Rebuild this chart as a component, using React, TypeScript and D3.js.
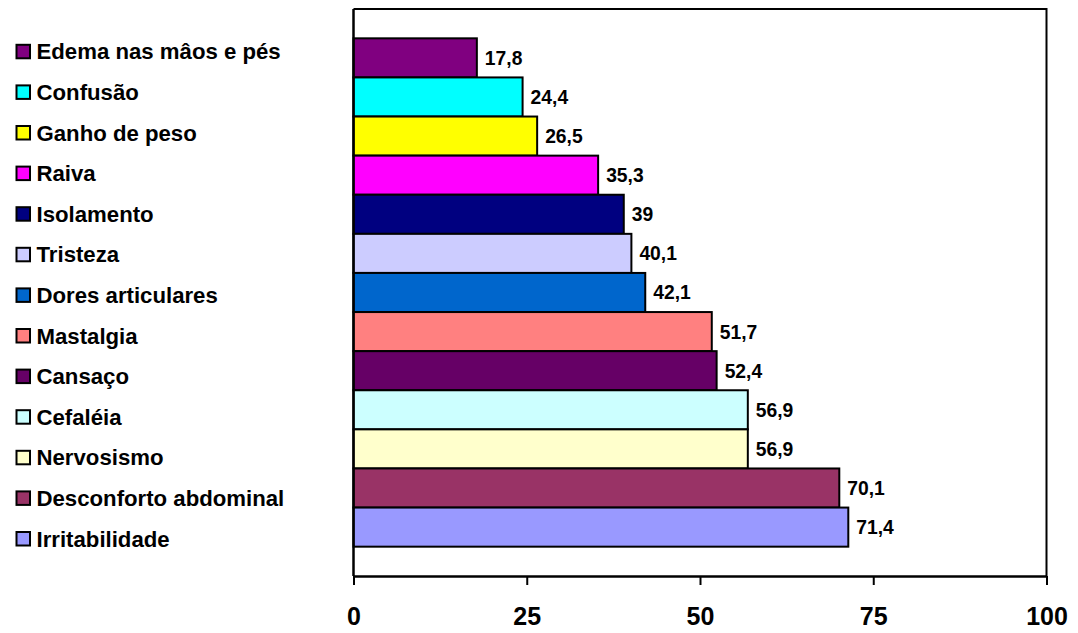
import React, { useEffect, useRef } from 'react';
import * as d3 from 'd3';

// Symptoms, top to bottom as drawn
const categories: string[] = [
    'Edema nas mâos e pés',
    'Confusão',
    'Ganho de peso',
    'Raiva',
    'Isolamento',
    'Tristeza',
    'Dores articulares',
    'Mastalgia',
    'Cansaço',
    'Cefaléia',
    'Nervosismo',
    'Desconforto abdominal',
    'Irritabilidade'
];

const values: number[] = [17.8, 24.4, 26.5, 35.3, 39, 40.1, 42.1, 51.7, 52.4, 56.9, 56.9, 70.1, 71.4];

const colors: string[] = [
    '#800080', '#00ffff', '#ffff00', '#ff00ff', '#000080', '#ccccff', '#0066cc',
    '#ff8080', '#660066', '#ccffff', '#ffffcc', '#993366', '#9999ff'
];

const xTicks: number[] = [0, 25, 50, 75, 100];

const WIDTH = 1078;
const HEIGHT = 633;
const FONT = 'Arial, "Liberation Sans", Helvetica, sans-serif';

const App: React.FC = () => {
    const svgRef = useRef<SVGSVGElement | null>(null);

    useEffect(() => {
        if (!svgRef.current) return;
        const svg = d3.select(svgRef.current);
        svg.selectAll('*').remove();

        const plot = { left: 353.5, right: 1046.5, top: 9, bottom: 576 };

        const xScale = d3.scaleLinear()
            .domain([0, 100])
            .range([plot.left, plot.right]);

        const yScale = d3.scaleBand<string>()
            .domain(categories)
            .range([plot.top, plot.bottom])
            .paddingInner(0)
            .paddingOuter(0.75);

        const data = categories.map((c, i) => ({ name: c, value: values[i], color: colors[i] }));

        // frame: top and right sides
        svg.append('path')
            .attr('d', `M${plot.left},${plot.top}H${plot.right}V${plot.bottom}`)
            .attr('fill', 'none')
            .attr('stroke', '#000')
            .attr('stroke-width', 2);

        svg.append('g')
            .selectAll('rect')
            .data(data)
            .enter()
            .append('rect')
            .attr('x', xScale(0))
            .attr('y', d => yScale(d.name)!)
            .attr('width', d => xScale(d.value) - xScale(0))
            .attr('height', yScale.bandwidth())
            .attr('fill', d => d.color)
            .attr('stroke', '#000')
            .attr('stroke-width', 2);

        svg.append('g')
            .selectAll('text')
            .data(data)
            .enter()
            .append('text')
            .attr('x', d => xScale(d.value) + 8)
            .attr('y', d => yScale(d.name)! + yScale.bandwidth() / 2)
            .attr('dy', '0.36em')
            .attr('font-family', FONT)
            .attr('font-weight', 'bold')
            .attr('font-size', 19.3)
            .text(d => String(d.value).replace('.', ','));

        // left axis line
        svg.append('line')
            .attr('x1', plot.left).attr('x2', plot.left)
            .attr('y1', plot.top).attr('y2', plot.bottom)
            .attr('stroke', '#000')
            .attr('stroke-width', 2.5);

        const xAxis = svg.append('g')
            .attr('transform', `translate(0,${plot.bottom})`)
            .call(d3.axisBottom(xScale).tickValues(xTicks).tickSize(9).tickPadding(22).tickSizeOuter(0));

        xAxis.select('.domain').attr('stroke-width', 2.5);
        xAxis.selectAll('.tick line').attr('stroke-width', 2);
        xAxis.selectAll('.tick text')
            .attr('font-family', FONT)
            .attr('font-weight', 'bold')
            .attr('font-size', 25)
            .attr('fill', '#000');

        // legend
        const legend = svg.append('g')
            .selectAll('g')
            .data(data)
            .enter()
            .append('g')
            .attr('transform', (d, i) => `translate(0,${59.3 + i * 40.6})`);

        legend.append('rect')
            .attr('x', 16.5)
            .attr('y', -14.5)
            .attr('width', 13.5)
            .attr('height', 13.5)
            .attr('fill', d => d.color)
            .attr('stroke', '#000')
            .attr('stroke-width', 2);

        legend.append('text')
            .attr('x', 36.5)
            .attr('y', 0)
            .attr('font-family', FONT)
            .attr('font-weight', 'bold')
            .attr('font-size', 22.2)
            .text(d => d.name);
    }, []);

    return (
        <svg
            ref={svgRef}
            width={WIDTH}
            height={HEIGHT}
            style={{ position: 'absolute', left: 0, top: 0, background: '#fff' }}
        />
    );
};

export default App;
